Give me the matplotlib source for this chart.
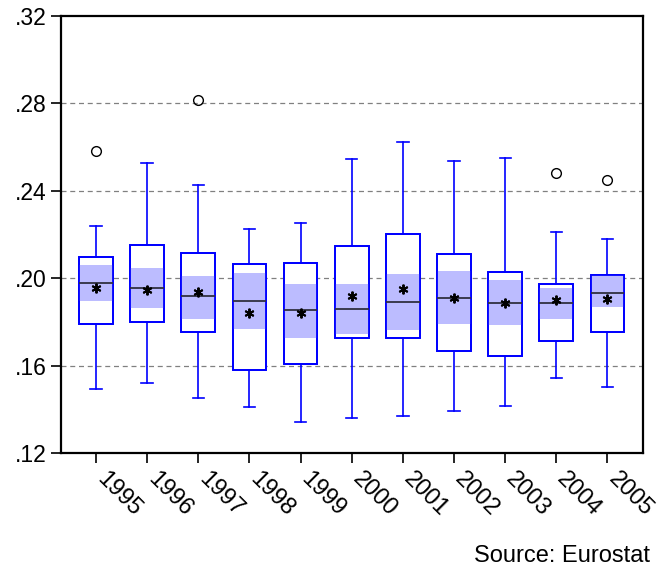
import matplotlib
matplotlib.use("Agg")
import matplotlib.pyplot as plt
from matplotlib.ticker import FixedLocator, FuncFormatter

plt.rcParams['font.family'] = ['Liberation Sans', 'DejaVu Sans']

years = ['1995', '1996', '1997', '1998', '1999', '2000', '2001', '2002', '2003', '2004', '2005']
whisker_hi = [0.2238, 0.2529, 0.2428, 0.2224, 0.2252, 0.2547, 0.2625, 0.2539, 0.2552, 0.2211, 0.2178]
q3 = [0.2098, 0.2151, 0.2114, 0.2067, 0.2068, 0.2148, 0.2201, 0.2113, 0.2029, 0.1972, 0.2013]
shade_hi = [0.2062, 0.2049, 0.2012, 0.2026, 0.1975, 0.1975, 0.2021, 0.2035, 0.1992, 0.1957, 0.2013]
median = [0.1978, 0.1957, 0.1917, 0.1896, 0.1853, 0.1861, 0.1891, 0.1912, 0.1888, 0.1887, 0.1935]
mean = [0.1954, 0.1946, 0.1939, 0.1841, 0.1839, 0.1920, 0.1949, 0.1908, 0.1885, 0.1902, 0.1906]
shade_lo = [0.1894, 0.1862, 0.1815, 0.1766, 0.1728, 0.1746, 0.1764, 0.1793, 0.1784, 0.1815, 0.1867]
q1 = [0.1789, 0.1802, 0.1755, 0.1582, 0.1608, 0.1728, 0.1726, 0.1668, 0.1646, 0.1715, 0.1754]
whisker_lo = [0.1494, 0.1520, 0.1454, 0.1411, 0.1342, 0.1362, 0.1370, 0.1391, 0.1416, 0.1544, 0.1503]
outliers = [[0.2584], [], [0.2815], [], [], [], [], [], [], [0.2481], [0.2452]]

yticks = [0.12, 0.16, 0.20, 0.24, 0.28, 0.32]

fig = plt.figure(figsize=(6.61, 5.75), dpi=100)
ax = fig.add_axes([0.0918, 0.212, 0.8814, 0.760])

positions = list(range(len(years)))
bw = 0.66
blue = '#0000FF'
shade = '#BCBCFF'

stats = []
for i in range(len(years)):
    stats.append(dict(med=median[i], q1=q1[i], q3=q3[i], whislo=whisker_lo[i],
                      whishi=whisker_hi[i], fliers=outliers[i], mean=mean[i], label=years[i]))

ax.bxp(stats, positions=positions, widths=bw, capwidths=0.22, patch_artist=True,
       showmeans=True,
       boxprops=dict(facecolor='white', edgecolor=blue, linewidth=1.3),
       whiskerprops=dict(color=blue, linewidth=1.2),
       capprops=dict(color=blue, linewidth=1.2),
       medianprops=dict(color='#303040', linewidth=1.3, zorder=4),
       meanprops=dict(marker=(6, 2, 0), markersize=7, markeredgecolor='black',
                      markeredgewidth=1.4, linestyle='none', zorder=5),
       flierprops=dict(marker='o', markersize=7, markerfacecolor='none',
                       markeredgecolor='black', markeredgewidth=1.0),
       zorder=2)

ax.bar(positions, [h - l for h, l in zip(shade_hi, shade_lo)], bottom=shade_lo,
       width=bw, color=shade, edgecolor='none', zorder=2.5)
ax.bar(positions, [h - l for h, l in zip(q3, q1)], bottom=q1, width=bw,
       fill=False, edgecolor=blue, linewidth=1.3, zorder=3)

ax.set_xlim(-0.69, 10.70)
ax.set_ylim(0.12, 0.32)
ax.yaxis.set_major_locator(FixedLocator(yticks))
ax.yaxis.set_major_formatter(FuncFormatter(lambda v, p: ('%.2f' % v).lstrip('0')))
for g in yticks[1:-1]:
    ax.axhline(g, color='#808080', linestyle=(0, (4, 3)), linewidth=0.9, zorder=1)

ax.set_xticks(positions)
ax.set_xticklabels(years, rotation=-45, ha='left', va='baseline', rotation_mode='anchor')
ax.tick_params(axis='x', direction='out', length=7.2, width=1.2, labelsize=17, pad=12.5)
ax.tick_params(axis='y', direction='out', length=7.2, width=1.2, labelsize=16.5, pad=3)
for s in ax.spines.values():
    s.set_linewidth(1.6)

fig.text(0.983, 0.033, 'Source: Eurostat', ha='right', va='center', fontsize=17)

fig.savefig('out.png', dpi=100)
